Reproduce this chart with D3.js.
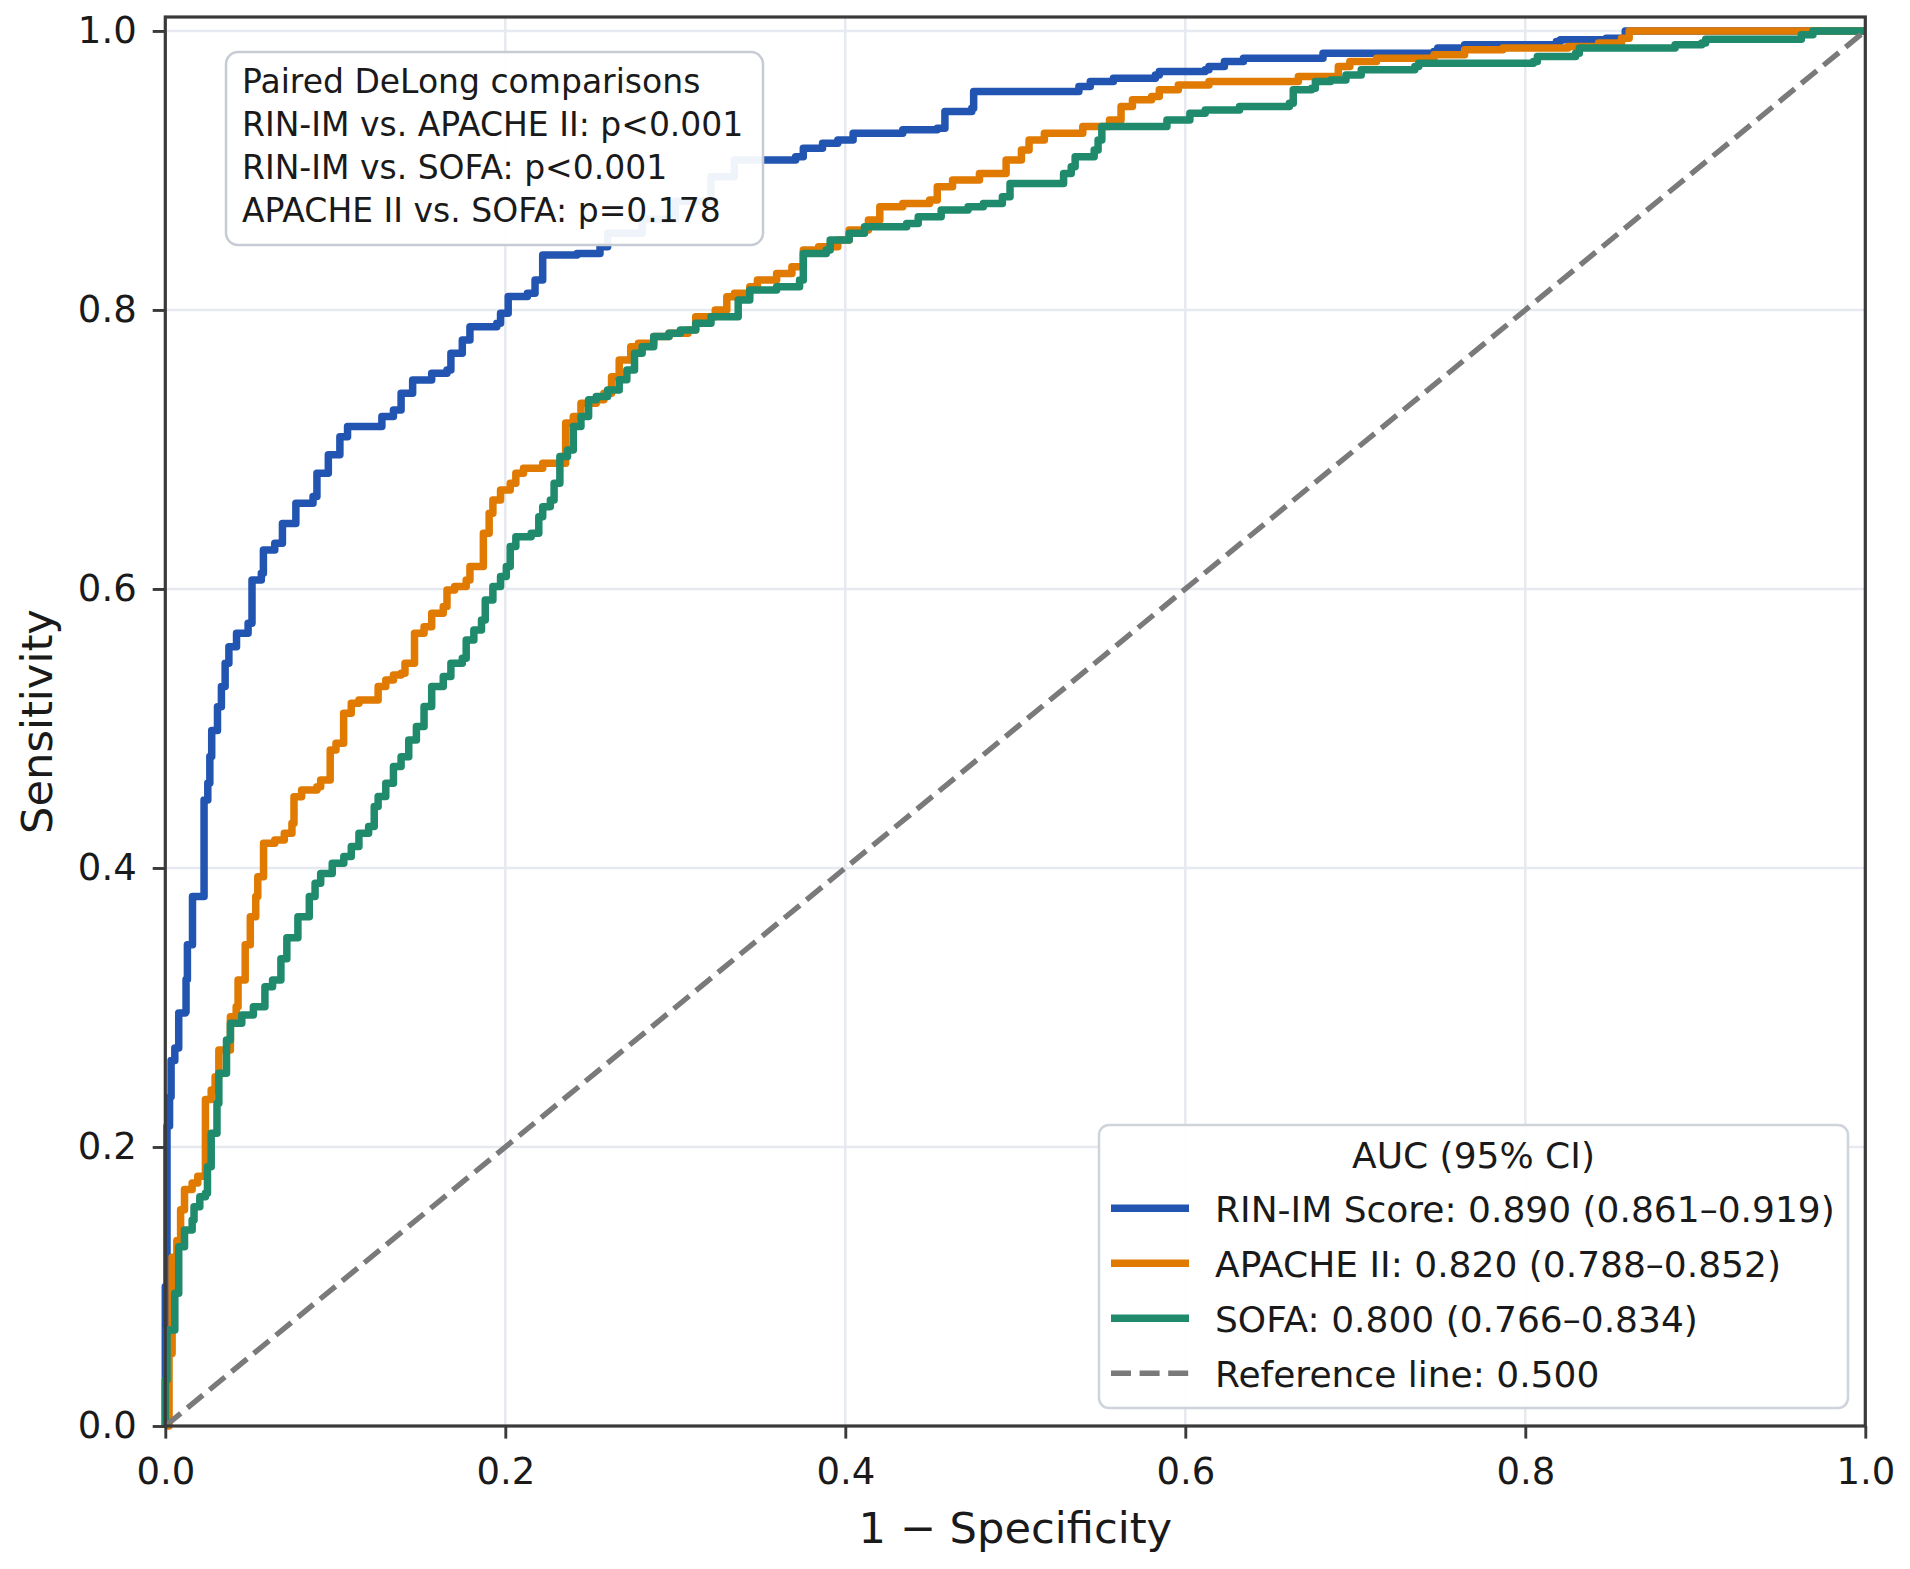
<!DOCTYPE html>
<html lang="en">
<head>
<meta charset="UTF-8">
<title>ROC curves - RIN-IM vs APACHE II vs SOFA</title>
<style>
  body { margin: 0; background: #fff; }
  text { font-family: "DejaVu Sans", sans-serif; fill: #1a1a1a; }
</style>
</head>
<body>
<script src="https://cdn.jsdelivr.net/npm/d3@7"></script>
<script>
// ROC points [1 - specificity, sensitivity]
const rinImRoc = [
  [0, 0], [0, 0.10], [0.001, 0.215], [0.0025, 0.236], [0.0034, 0.262], [0.0056, 0.271],
  [0.0079, 0.277], [0.0079, 0.296], [0.0117, 0.297], [0.0122, 0.32], [0.013, 0.345],
  [0.016, 0.35], [0.016, 0.3795], [0.0228, 0.3795], [0.0228, 0.4487], [0.025, 0.461],
  [0.0262, 0.48], [0.0273, 0.4986], [0.0307, 0.5155], [0.033, 0.53], [0.0352, 0.5467],
  [0.0374, 0.5586], [0.0419, 0.5682], [0.0487, 0.5754], [0.051, 0.5802], [0.051, 0.6065],
  [0.0565, 0.6113], [0.0577, 0.628], [0.0644, 0.6327], [0.0689, 0.647], [0.0757, 0.647],
  [0.0768, 0.6614], [0.0869, 0.6662], [0.0892, 0.683], [0.0959, 0.6962], [0.1027, 0.7092],
  [0.1072, 0.7164], [0.123, 0.7164], [0.1274, 0.7236], [0.1342, 0.7283], [0.1387, 0.7403],
  [0.1455, 0.7498], [0.1567, 0.7546], [0.1657, 0.757], [0.168, 0.769], [0.1747, 0.7785],
  [0.1792, 0.788], [0.195, 0.7904], [0.1972, 0.7976], [0.2017, 0.8096], [0.213, 0.8119],
  [0.2175, 0.8214], [0.222, 0.8394], [0.2422, 0.8405], [0.2557, 0.8453], [0.2602, 0.855],
  [0.2805, 0.865], [0.30, 0.878], [0.321, 0.8955], [0.3347, 0.9075], [0.3505, 0.9075],
  [0.3708, 0.9099], [0.3753, 0.9159], [0.3866, 0.9195], [0.3956, 0.9219], [0.4046, 0.9267],
  [0.4338, 0.9291], [0.4541, 0.9303], [0.4586, 0.9422], [0.4744, 0.9446], [0.4755, 0.9566],
  [0.5352, 0.9566], [0.5374, 0.9601], [0.5441, 0.9637], [0.5577, 0.9661], [0.5824, 0.9685],
  [0.5847, 0.9709], [0.6117, 0.9721], [0.6139, 0.9745], [0.623, 0.9781], [0.6342, 0.9805],
  [0.679, 0.9805], [0.681, 0.9841], [0.7462, 0.9853], [0.7485, 0.9877], [0.7643, 0.9901],
  [0.8183, 0.9925], [0.8206, 0.9937], [0.8476, 0.9948], [0.8588, 1.0], [1, 1]
];

const apacheRoc = [
  [0, 0], [0.0022, 0.028], [0.0022, 0.052], [0.004, 0.076], [0.004, 0.121], [0.0068, 0.133],
  [0.009, 0.155], [0.0113, 0.1696], [0.0158, 0.1742], [0.0191, 0.179], [0.0236, 0.179],
  [0.0236, 0.234], [0.027, 0.2409], [0.0293, 0.2504], [0.0315, 0.2695], [0.0383, 0.2934],
  [0.0417, 0.3006], [0.0428, 0.3197], [0.047, 0.345], [0.05, 0.365], [0.0532, 0.3795],
  [0.0544, 0.3938], [0.0578, 0.396], [0.0578, 0.4177], [0.0644, 0.42], [0.07, 0.4249],
  [0.0745, 0.432], [0.0757, 0.451], [0.0802, 0.4559], [0.0892, 0.4583], [0.0914, 0.463],
  [0.097, 0.4655], [0.097, 0.4846], [0.1004, 0.4894], [0.1049, 0.4906], [0.1049, 0.5109],
  [0.1094, 0.5181], [0.1139, 0.5204], [0.1229, 0.5204], [0.1252, 0.53], [0.1297, 0.5348],
  [0.1342, 0.5384], [0.1387, 0.5396], [0.141, 0.5467], [0.1455, 0.5467], [0.1466, 0.5682],
  [0.1522, 0.573], [0.1567, 0.5826], [0.1635, 0.5874], [0.1657, 0.5993], [0.1702, 0.6017],
  [0.177, 0.6065], [0.1792, 0.6161], [0.186, 0.6161], [0.1871, 0.6399], [0.1905, 0.6542],
  [0.1927, 0.6638], [0.1972, 0.671], [0.2029, 0.6758], [0.2062, 0.6829], [0.2107, 0.6865],
  [0.2197, 0.6865], [0.222, 0.6901], [0.231, 0.6901], [0.2355, 0.7068], [0.2355, 0.7189],
  [0.24, 0.7236], [0.2445, 0.7332], [0.2535, 0.7356], [0.258, 0.7403], [0.2625, 0.7522],
  [0.267, 0.7642], [0.2738, 0.7737], [0.2783, 0.7761], [0.2873, 0.7809], [0.2963, 0.7833],
  [0.3075, 0.7857], [0.312, 0.7952], [0.3235, 0.8], [0.3303, 0.8095], [0.3348, 0.8119],
  [0.3438, 0.8167], [0.3483, 0.8214], [0.3596, 0.8262], [0.3686, 0.831], [0.3753, 0.8429],
  [0.3843, 0.8453], [0.3956, 0.8501], [0.4023, 0.8573], [0.4136, 0.8644], [0.4203, 0.874],
  [0.4338, 0.8764], [0.4496, 0.8788], [0.4541, 0.8883], [0.4631, 0.8931], [0.4789, 0.8979],
  [0.4924, 0.8979], [0.4946, 0.9075], [0.5036, 0.9147], [0.5081, 0.9219], [0.5171, 0.9267],
  [0.5352, 0.9267], [0.5397, 0.9315], [0.5554, 0.9362], [0.5622, 0.9458], [0.5689, 0.9506],
  [0.5802, 0.953], [0.5847, 0.9578], [0.5959, 0.9613], [0.6139, 0.9637], [0.6635, 0.9637],
  [0.6665, 0.9673], [0.6743, 0.9673], [0.69, 0.9745], [0.6968, 0.9781], [0.7125, 0.9805],
  [0.7463, 0.9829], [0.7643, 0.9865], [0.7868, 0.9877], [0.8251, 0.9889], [0.8431, 0.9913],
  [0.8566, 0.9948], [0.8611, 1.0], [1, 1]
];

const sofaRoc = [
  [0, 0], [0, 0.033], [0.001, 0.0689], [0.004, 0.0689], [0.0056, 0.0952], [0.0079, 0.1],
  [0.0079, 0.1285], [0.0113, 0.1405], [0.0158, 0.1477], [0.0169, 0.1572], [0.0203, 0.1644],
  [0.0236, 0.1668], [0.0248, 0.1859], [0.027, 0.2098], [0.0304, 0.2313], [0.0315, 0.2528],
  [0.036, 0.2767], [0.0383, 0.2887], [0.045, 0.2946], [0.0518, 0.3006], [0.0586, 0.3149],
  [0.0631, 0.3197], [0.068, 0.335], [0.0715, 0.35], [0.078, 0.365], [0.0847, 0.3795],
  [0.0881, 0.389], [0.0914, 0.396], [0.0982, 0.4034], [0.105, 0.4082], [0.1094, 0.4154],
  [0.1139, 0.4249], [0.1196, 0.4297], [0.1229, 0.444], [0.1252, 0.4512], [0.1297, 0.4607],
  [0.1342, 0.4727], [0.1387, 0.4798], [0.1432, 0.4918], [0.1477, 0.5014], [0.1522, 0.5157],
  [0.1567, 0.53], [0.1635, 0.5372], [0.168, 0.5467], [0.1747, 0.5503], [0.177, 0.5634],
  [0.1815, 0.5706], [0.186, 0.5778], [0.1882, 0.5921], [0.1927, 0.6017], [0.1972, 0.6089],
  [0.2006, 0.6161], [0.2029, 0.6304], [0.2062, 0.6375], [0.2152, 0.6399], [0.2197, 0.6518],
  [0.222, 0.659], [0.2265, 0.6638], [0.2287, 0.6758], [0.2321, 0.6853], [0.2321, 0.6949],
  [0.2366, 0.6997], [0.24, 0.7164], [0.2445, 0.7236], [0.249, 0.7356], [0.2535, 0.738],
  [0.2602, 0.7427], [0.267, 0.7499], [0.2715, 0.757], [0.276, 0.769], [0.2805, 0.7737],
  [0.2873, 0.7809], [0.2963, 0.7833], [0.303, 0.7857], [0.3097, 0.7857], [0.312, 0.7904],
  [0.321, 0.7952], [0.33, 0.7952], [0.337, 0.8071], [0.3438, 0.8143], [0.3596, 0.8167],
  [0.3731, 0.8214], [0.3753, 0.8405], [0.3888, 0.8429], [0.3911, 0.8501], [0.4023, 0.8549],
  [0.4113, 0.8596], [0.4361, 0.862], [0.4429, 0.8668], [0.4564, 0.8716], [0.4722, 0.874],
  [0.4812, 0.8764], [0.4924, 0.8812], [0.4969, 0.8907], [0.5217, 0.8907], [0.5284, 0.8979],
  [0.5329, 0.9027], [0.5352, 0.9099], [0.5464, 0.9147], [0.5487, 0.9219], [0.5509, 0.9315],
  [0.5847, 0.9315], [0.5892, 0.9362], [0.6027, 0.941], [0.6117, 0.9434], [0.6319, 0.9458],
  [0.6612, 0.9482], [0.6635, 0.9578], [0.6743, 0.959], [0.6765, 0.9637], [0.6855, 0.9649],
  [0.6945, 0.9685], [0.7035, 0.9721], [0.735, 0.9745], [0.7373, 0.9769], [0.8048, 0.9781],
  [0.8071, 0.9817], [0.8296, 0.9841], [0.8318, 0.9877], [0.8858, 0.9877], [0.8881, 0.9901],
  [0.9038, 0.9913], [0.9061, 0.994], [0.9579, 0.994], [0.9624, 0.9972], [0.9692, 1.0], [1, 1]
];

const seriesNames = ["RIN-IM Score", "APACHE II", "SOFA"];
const seriesAuc = ["0.890 (0.861\u20130.919)", "0.820 (0.788\u20130.852)", "0.800 (0.766\u20130.834)"];
const seriesColors = ["#2254b1", "#e07a00", "#1f8a6c"];
const referenceLabel = "Reference line: 0.500";
const comparisonLines = [
  "Paired DeLong comparisons",
  "RIN-IM vs. APACHE II: p<0.001",
  "RIN-IM vs. SOFA: p<0.001",
  "APACHE II vs. SOFA: p=0.178"
];
const tickValues = [0, 0.2, 0.4, 0.6, 0.8, 1.0];

const w = 1910;
const h = 1569;
const margin = { top: 17, right: 44.7, bottom: 143, left: 165.3 };

const xScale = d3.scaleLinear()
  .domain([0, 1])
  .range([margin.left, w - margin.right]);

const yScale = d3.scaleLinear()
  .domain([0, 1.01])
  .range([h - margin.bottom, margin.top]);

const svg = d3.select('body')
  .append('svg')
  .attr('width', w)
  .attr('height', h);

svg.append('rect').attr('width', w).attr('height', h).attr('fill', '#fff');

// grid
const grid = svg.append('g').attr('stroke', '#e6e9ef').attr('stroke-width', 2.5);
grid.selectAll('.gx').data(tickValues).enter().append('line')
  .attr('x1', d => xScale(d)).attr('x2', d => xScale(d))
  .attr('y1', yScale(0)).attr('y2', yScale(1.01));
grid.selectAll('.gy').data(tickValues).enter().append('line')
  .attr('x1', xScale(0)).attr('x2', xScale(1))
  .attr('y1', d => yScale(d)).attr('y2', d => yScale(d));

// ROC curves, drawn as staircases
const rocLine = d3.line()
  .curve(d3.curveStepAfter)
  .x(d => xScale(d[0]))
  .y(d => yScale(d[1]));

const line = d3.line()
  .x(d => xScale(d[0]))
  .y(d => yScale(d[1]));

const plot = svg.append('g');
[rinImRoc, apacheRoc, sofaRoc].forEach((pts, i) => {
  plot.append('path')
    .datum(pts)
    .attr('d', rocLine)
    .attr('fill', 'none')
    .attr('stroke', seriesColors[i])
    .attr('stroke-width', 7.5)
    .attr('stroke-linejoin', 'round');
});

// chance line
plot.append('path')
  .datum([[0, 0], [1, 1]])
  .attr('d', line)
  .attr('fill', 'none')
  .attr('stroke', '#7a7a7a')
  .attr('stroke-width', 5.4)
  .attr('stroke-dasharray', '20,8.6');

// axes
const xAxis = svg.append('g')
  .attr('transform', `translate(0,${yScale(0)})`)
  .call(d3.axisBottom(xScale).tickValues(tickValues).tickFormat(d3.format('.1f'))
    .tickSize(12.6).tickPadding(19));
const yAxis = svg.append('g')
  .attr('transform', `translate(${xScale(0)},0)`)
  .call(d3.axisLeft(yScale).tickValues(tickValues).tickFormat(d3.format('.1f'))
    .tickSize(12.6).tickPadding(16));

[xAxis, yAxis].forEach(ax => {
  ax.select('.domain').remove();
  ax.selectAll('.tick line').attr('stroke', '#3a3a3a').attr('stroke-width', 2.9);
  ax.selectAll('.tick text').attr('font-size', 37).attr('fill', '#1a1a1a')
    .attr('font-family', '"DejaVu Sans", sans-serif');
});

// frame
svg.append('rect')
  .attr('x', xScale(0)).attr('y', yScale(1.01))
  .attr('width', xScale(1) - xScale(0))
  .attr('height', yScale(0) - yScale(1.01))
  .attr('fill', 'none')
  .attr('stroke', '#3a3a3a')
  .attr('stroke-width', 3.2);

// axis titles
svg.append('text')
  .attr('x', (xScale(0) + xScale(1)) / 2)
  .attr('y', 1543)
  .attr('text-anchor', 'middle')
  .attr('font-size', 43.2)
  .text('1 \u2212 Specificity');

svg.append('text')
  .attr('transform', `translate(52,${(yScale(0) + yScale(1.01)) / 2}) rotate(-90)`)
  .attr('text-anchor', 'middle')
  .attr('font-size', 43.2)
  .text('Sensitivity');

// comparison box
const note = svg.append('g');
note.append('rect')
  .attr('x', 226).attr('y', 52).attr('width', 537).attr('height', 193)
  .attr('rx', 12)
  .attr('fill', '#fff').attr('fill-opacity', 0.93)
  .attr('stroke', '#c6cbd4').attr('stroke-width', 2.5);
note.selectAll('text').data(comparisonLines).enter().append('text')
  .attr('x', 242)
  .attr('y', (d, i) => 93 + i * 43)
  .attr('font-size', 33)
  .text(d => d);

// legend
const legend = svg.append('g');
legend.append('rect')
  .attr('x', 1099).attr('y', 1125).attr('width', 749).attr('height', 283)
  .attr('rx', 10)
  .attr('fill', '#fff').attr('fill-opacity', 0.92)
  .attr('stroke', '#cfd3da').attr('stroke-width', 2.5);
legend.append('text')
  .attr('x', 1473.5).attr('y', 1168)
  .attr('text-anchor', 'middle')
  .attr('font-size', 36)
  .text('AUC (95% CI)');

const items = seriesNames.map((n, i) => ({ label: `${n}: ${seriesAuc[i]}`, color: seriesColors[i], dash: null }));
items.push({ label: referenceLabel, color: '#7a7a7a', dash: '20,8.6' });

const rows = legend.selectAll('.item').data(items).enter().append('g')
  .attr('transform', (d, i) => `translate(0,${1221.7 + i * 55})`);
rows.append('line')
  .attr('x1', 1111).attr('x2', 1189)
  .attr('y1', -13.5).attr('y2', -13.5)
  .attr('stroke', d => d.color)
  .attr('stroke-width', d => d.dash ? 5.4 : 7.5)
  .attr('stroke-dasharray', d => d.dash);
rows.append('text')
  .attr('x', 1215).attr('y', 0)
  .attr('font-size', 36)
  .text(d => d.label);
</script>
</body>
</html>
